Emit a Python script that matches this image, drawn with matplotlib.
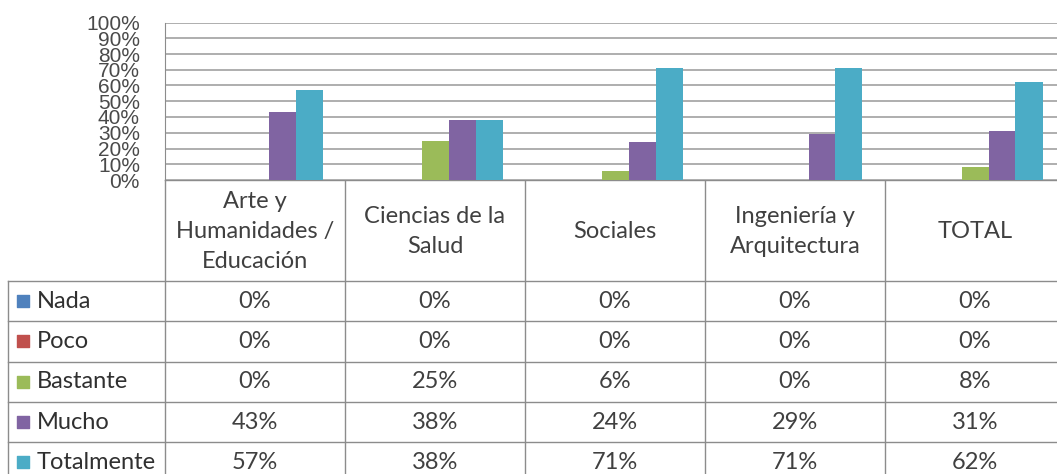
import numpy as np
from matplotlib import pyplot as plt
from matplotlib.ticker import PercentFormatter

categories = ["Arte y\nHumanidades /\nEducación", "Ciencias de la\nSalud", "Sociales",
              "Ingeniería y\nArquitectura", "TOTAL"]
series = ["Nada", "Poco", "Bastante", "Mucho", "Totalmente"]
nada = [0, 0, 0, 0, 0]
poco = [0, 0, 0, 0, 0]
bastante = [0, 25, 6, 0, 8]
mucho = [43, 38, 24, 29, 31]
totalmente = [57, 38, 71, 71, 62]
values = [nada, poco, bastante, mucho, totalmente]
colors = ["#4F81BD", "#C0504D", "#9BBB59", "#8064A2", "#4BACC6"]

W, H = 1057, 474
col_x0, col_w = 165, 180        # table columns line up with the categories
plot_top, plot_bottom = 22.5, 180
head_bottom, row_h = 281, 40.3
label_x0 = 8
text_color = "#404040"
line_color = "#8c8c8c"
table_font = ["Lato", "DejaVu Sans"]

fig = plt.figure(figsize=(W / 100, H / 100), dpi=100)
n = len(categories)
ax = fig.add_axes([col_x0 / W, 1 - plot_bottom / H,
                   n * col_w / W, (plot_bottom - plot_top) / H])

# clustered bars
bar_w = 0.15
x = np.arange(n)
for j, (vals, c) in enumerate(zip(values, colors)):
    ax.bar(x + (j - 2) * bar_w, np.array(vals) / 100, width=bar_w, color=c, zorder=3)

ax.set_xlim(-0.5, n - 0.5)
ax.set_ylim(0, 1)
ax.set_yticks(np.arange(0, 1.01, 0.1))
ax.yaxis.set_major_formatter(PercentFormatter(1.0, decimals=0))
ax.set_xticks([])
ax.tick_params(axis="y", length=0, pad=18, labelsize=15, labelcolor="#4a4a4a")
for lab in ax.get_yticklabels():
    lab.set_fontfamily("Liberation Sans")
ax.grid(axis="y", color="#a8a8a8", lw=1.3, zorder=0)
for s in ["top", "right", "bottom"]:
    ax.spines[s].set_visible(False)
ax.spines["left"].set_color(line_color)

# data table below the chart, in pixel coordinates
tab = fig.add_axes([0, 0, 1, 1], zorder=-1)
tab.set_xlim(0, W)
tab.set_ylim(H, 0)
tab.axis("off")

right = col_x0 + n * col_w
n_rows = len(series)
table_bottom = head_bottom + n_rows * row_h
tab.plot([col_x0, right], [plot_bottom, plot_bottom], color=line_color, lw=1)
for r in range(n_rows + 1):
    y = head_bottom + r * row_h
    tab.plot([label_x0, right], [y, y], color=line_color, lw=1)
tab.plot([label_x0, label_x0], [head_bottom, table_bottom], color=line_color, lw=1)
for i in range(n + 1):
    xc = col_x0 + i * col_w
    tab.plot([xc, xc], [plot_bottom, table_bottom], color=line_color, lw=1)

for i, cat in enumerate(categories):
    tab.text(col_x0 + (i + 0.5) * col_w, (plot_bottom + head_bottom) / 2 + 1, cat,
             ha="center", va="center", fontsize=17, family=table_font,
             color=text_color, linespacing=1.5)

for r, (name, vals, c) in enumerate(zip(series, values, colors)):
    yc = head_bottom + (r + 0.5) * row_h
    tab.scatter([23], [yc], marker="s", s=70, color=c)
    tab.text(37, yc, name, ha="left", va="center", fontsize=17,
             family=table_font, color="#303030")
    for i, v in enumerate(vals):
        tab.text(col_x0 + (i + 0.5) * col_w, yc, f"{v}%", ha="center", va="center",
                 fontsize=17, family=table_font, color=text_color)

plt.savefig("out.png", dpi=100)
